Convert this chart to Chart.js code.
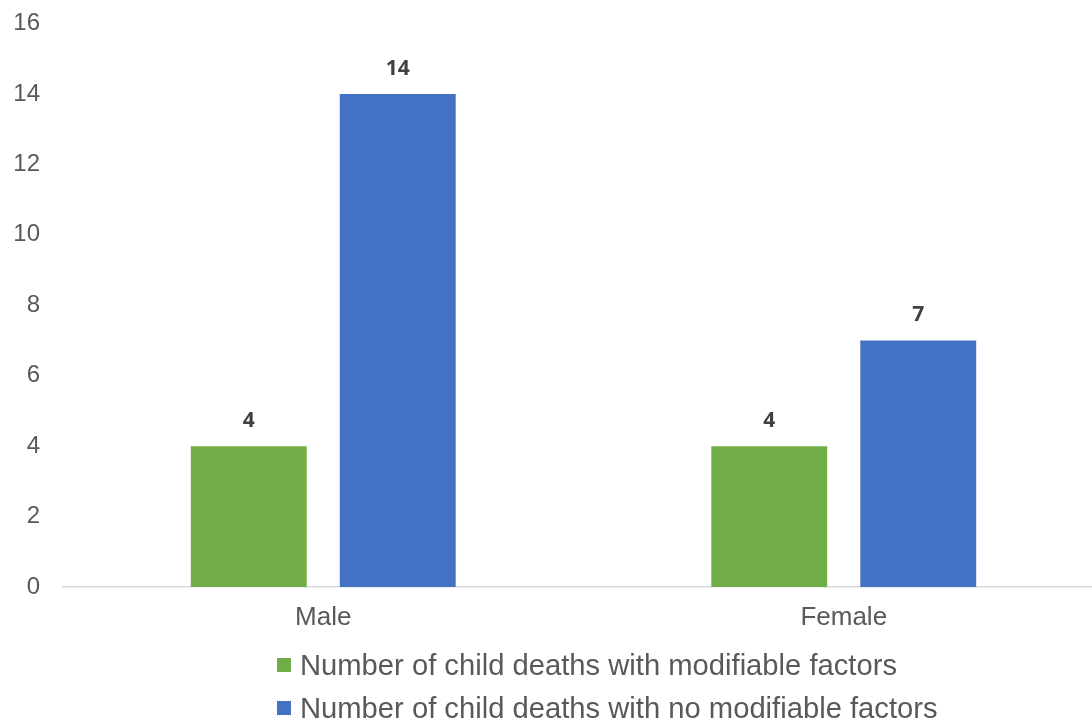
<!DOCTYPE html>
<html>
<head>
<meta charset="utf-8">
<script src="https://cdn.jsdelivr.net/npm/chart.js@4"></script>
<style>
  html, body { margin: 0; padding: 0; background: #fff; overflow: hidden; }
  #wrap { position: relative; width: 1104px; height: 724px; }
  #chart { display: block; }
  .legend-row {
    position: absolute; left: 277px; height: 43px; line-height: 43px;
    font-family: "Liberation Sans", Arial, sans-serif; font-size: 29.2px;
    color: #595959; white-space: nowrap; padding-left: 23px;
  }
  .legend-box { position: absolute; left: 0; top: 14.5px; width: 14px; height: 14px; }
</style>
</head>
<body>
<div id="wrap">
  <canvas id="chart" width="1104" height="724"></canvas>
</div>
<script>
// Categories and series
const categories = ["Male", "Female"];
const seriesNames = [
  "Number of child deaths with modifiable factors",
  "Number of child deaths with no modifiable factors"
];
const modifiable = [4, 4];
const noModifiable = [14, 7];
const seriesColors = ["#70AD47", "#4472C4"];
const yTicks = [0, 2, 4, 6, 8, 10, 12, 14, 16];

const seriesValues = [modifiable, noModifiable];

// Value labels above each bar
const valueLabels = {
  id: "valueLabels",
  afterDatasetsDraw(chart) {
    const ctx = chart.ctx;
    ctx.save();
    ctx.font = "700 21px 'Open Sans', 'DejaVu Sans', sans-serif";
    ctx.fillStyle = "#404040";
    ctx.textAlign = "center";
    ctx.textBaseline = "alphabetic";
    chart.data.datasets.forEach((ds, i) => {
      chart.getDatasetMeta(i).data.forEach((bar, j) => {
        ctx.fillText(String(ds.data[j]), bar.x, bar.y - 19);
      });
    });
    ctx.restore();
  }
};

new Chart(document.getElementById("chart"), {
  type: "bar",
  data: {
    labels: categories,
    datasets: seriesNames.map((name, i) => ({
      label: name,
      data: seriesValues[i],
      backgroundColor: seriesColors[i],
      borderWidth: 0,
      categoryPercentage: 0.5725,
      barPercentage: 0.778
    }))
  },
  options: {
    responsive: false,
    animation: false,
    devicePixelRatio: 1,
    layout: { padding: { top: 23.5, right: 0, bottom: 0, left: 0 } },
    plugins: {
      legend: { display: false },
      tooltip: { enabled: false }
    },
    scales: {
      x: {
        offset: true,
        grid: { display: false, drawTicks: false },
        border: { display: true, color: "#D9D9D9", width: 1.5 },
        ticks: {
          color: "#595959",
          padding: 15,
          font: { family: "'Liberation Sans', Arial, sans-serif", size: 26 }
        },
        afterFit(scale) { scale.height = 137; }
      },
      y: {
        min: yTicks[0],
        max: yTicks[yTicks.length - 1],
        grid: { display: false, drawTicks: false },
        border: { display: false },
        afterBuildTicks(scale) { scale.ticks = yTicks.map(v => ({ value: v })); },
        ticks: {
          color: "#595959",
          padding: 23,
          font: { family: "'Liberation Sans', Arial, sans-serif", size: 24 }
        },
        afterFit(scale) {
          scale.width = 63;
          scale.paddingTop = 0;
          scale.paddingBottom = 0;
        }
      }
    }
  },
  plugins: [valueLabels]
});

// Legend rows, one per series
const wrap = document.getElementById("wrap");
const rowTops = [643.5, 686.5];
seriesNames.forEach((name, i) => {
  const row = document.createElement("div");
  row.className = "legend-row";
  row.style.top = rowTops[i] + "px";
  const box = document.createElement("span");
  box.className = "legend-box";
  box.style.background = seriesColors[i];
  row.appendChild(box);
  row.appendChild(document.createTextNode(name));
  wrap.appendChild(row);
});
</script>
</body>
</html>
